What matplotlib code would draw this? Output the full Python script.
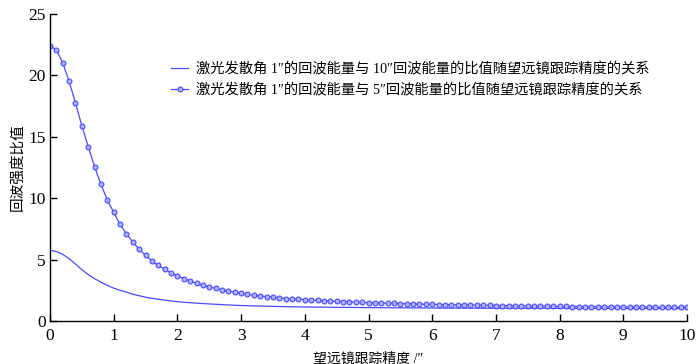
import numpy as np
import matplotlib
matplotlib.use('Agg')
import matplotlib.pyplot as plt

plt.rcParams['font.family'] = ['Liberation Serif', 'Noto Sans CJK SC', 'DejaVu Sans']

# tracking accuracy grid (arcsec), step 0.1
tracking = np.round(np.arange(0, 10.01, 0.1), 1)

# ratio 1" vs 5" (marker series), read at every 0.1"
ratio_5 = [
    22.42, 22.07, 21.03, 19.52, 17.75, 15.90, 14.19, 12.57, 11.13, 9.85,
    8.85, 7.86, 7.11, 6.43, 5.84, 5.35, 4.89, 4.53, 4.21, 3.93,
    3.68, 3.45, 3.26, 3.06, 2.90, 2.77, 2.66, 2.52, 2.44, 2.33,
    2.25, 2.17, 2.09, 2.04, 1.98, 1.93, 1.87, 1.83, 1.80, 1.77,
    1.74, 1.71, 1.68, 1.66, 1.63, 1.61, 1.58, 1.56, 1.54, 1.52,
    1.50, 1.48, 1.46, 1.45, 1.43, 1.42, 1.40, 1.39, 1.38, 1.36,
    1.35, 1.34, 1.33, 1.32, 1.31, 1.30, 1.29, 1.28, 1.27, 1.27,
    1.26, 1.25, 1.24, 1.24, 1.23, 1.22, 1.22, 1.21, 1.20, 1.20,
    1.19, 1.19, 1.18, 1.18, 1.17, 1.17, 1.16, 1.16, 1.15, 1.15,
    1.14, 1.14, 1.14, 1.13, 1.13, 1.12, 1.12, 1.12, 1.11, 1.11,
    1.11,
]

# ratio 1" vs 10" (plain line)
tracking_10 = [0.0, 0.1, 0.2, 0.3, 0.4, 0.5, 0.6, 0.7, 0.8, 0.9, 1.0,
               1.1, 1.2, 1.3, 1.4, 1.5, 1.6, 1.7, 1.8, 1.9, 2.0,
               2.2, 2.4, 2.6, 2.8, 3.0, 3.5, 4.0, 5.0, 6.0, 7.0, 8.0, 9.0, 10.0]
ratio_10 = [5.75, 5.66, 5.43, 5.08, 4.64, 4.18, 3.78, 3.45, 3.16, 2.90, 2.68,
            2.50, 2.35, 2.18, 2.06, 1.94, 1.85, 1.77, 1.70, 1.63, 1.57,
            1.49, 1.42, 1.36, 1.31, 1.26, 1.19, 1.14, 1.09, 1.06, 1.04, 1.03, 1.02, 1.01]

labels = ['激光发散角 1″的回波能量与 10″回波能量的比值随望远镜跟踪精度的关系',
          '激光发散角 1″的回波能量与 5″回波能量的比值随望远镜跟踪精度的关系']

blue = '#4a4aff'

fig = plt.figure(figsize=(7, 3.64), dpi=100)
ax = fig.add_axes([50 / 700, 43 / 364, 637 / 700, 307 / 364])

ax.plot(tracking_10, ratio_10, color=blue, lw=0.9, label=labels[0])
ax.plot(tracking, ratio_5, color=blue, lw=0.9, marker='o', ms=3.5,
        mfc='#b0b0ff', mec=blue, mew=0.8, label=labels[1])

ax.set_xlim(0, 10)
ax.set_ylim(0, 25)
ax.set_xticks(range(0, 11))
ax.set_yticks(range(0, 26, 5))
ax.spines['top'].set_visible(False)
ax.spines['right'].set_visible(False)
for s in ('left', 'bottom'):
    ax.spines[s].set_linewidth(1.0)
ax.tick_params(direction='in', length=5, width=1.0, labelsize=12.5)
ax.tick_params(axis='x', pad=5)
ax.tick_params(axis='y', pad=3)

ax.set_xlabel('望远镜跟踪精度 /″', fontsize=10, labelpad=6)
ax.set_ylabel('回波强度比值', fontsize=10.5, labelpad=2.5)

ax.legend(loc='upper left', bbox_to_anchor=(171 / 700, 1 - 62 / 364), bbox_transform=fig.transFigure,
          frameon=False, fontsize=10.3, handlelength=1.2, handletextpad=0.55,
          labelspacing=0.5, borderpad=0, borderaxespad=0)

fig.savefig('out.png', dpi=100)
